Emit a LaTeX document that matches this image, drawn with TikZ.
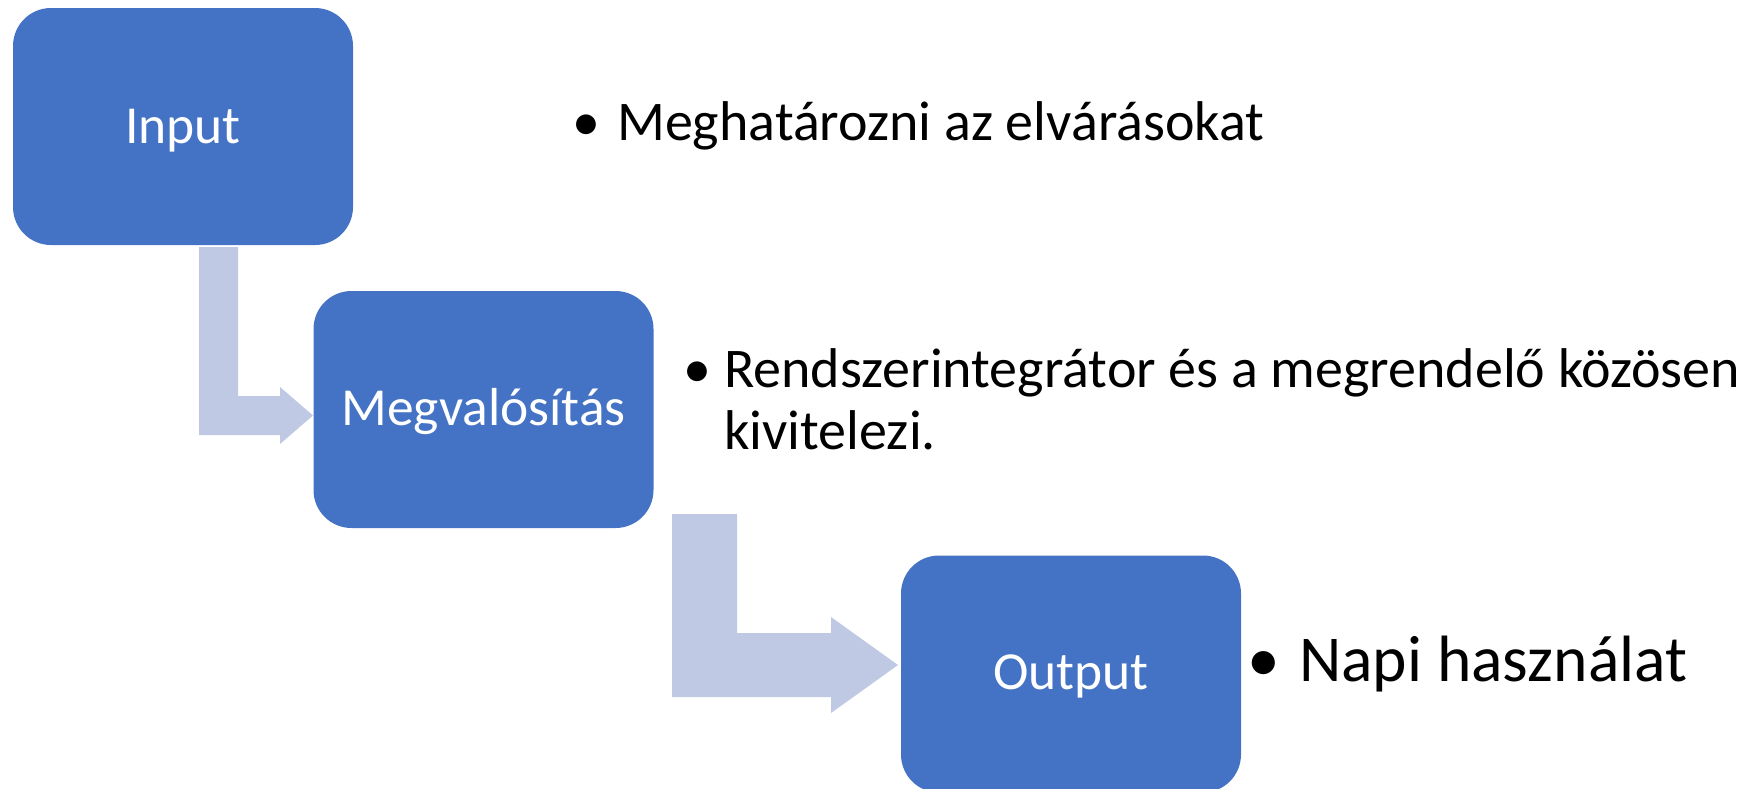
\documentclass[tikz,border=0pt]{standalone}
\usepackage{fontspec}
\setmainfont{Carlito}
\definecolor{boxblue}{RGB}{68,114,196}
\definecolor{arrowblue}{RGB}{191,201,228}
\begin{document}
\begin{tikzpicture}[x=1pt,y=-1pt,
  stepbox/.style={fill=boxblue, rounded corners=38pt, inner sep=0pt, minimum width=340pt, minimum height=237pt},
  lbl/.style={text=white, anchor=base, inner sep=0pt, font=\fontsize{53.5}{64}\selectfont},
  bul/.style={anchor=base west, inner sep=0pt, text=black},
  bendarrow/.style={fill=arrowblue}]
\useasboundingbox (0,0) rectangle (1749,788);
% boxes
\node[stepbox] (in) at (183,126.5) {};
\node[stepbox] (meg) at (483.5,409.5) {};
\node[stepbox] (out) at (1071,674) {};
\node[lbl] (inT) at (183,143) {Input};
\node[lbl] (megT) at (483.5,425) {Megvalósítás};
\node[lbl] (outT) at (1071,689) {Output};
% bent arrows
\coordinate (t1) at (313,415.5);
\coordinate (t2) at (898,665);
\fill[bendarrow] (199,247) -- (238,247) -- (238,396) -- (280,396) -- (280,387) -- (t1) -- (280,444) -- (280,435) -- (199,435) -- cycle;
\fill[bendarrow] (672,514) -- (737,514) -- (737,633) -- (831,633) -- (831,617) -- (t2) -- (831,713) -- (831,697) -- (672,697) -- cycle;
% bullet texts
\node[bul, font=\fontsize{56}{67}\selectfont] (b1) at (572,140) {•};
\node[bul, font=\fontsize{56}{67}\selectfont] (t1a) at (617,140) {Meghatározni az elvárásokat};
\node[bul, font=\fontsize{56}{67}\selectfont] (b2) at (683,387) {•};
\node[bul, font=\fontsize{56}{67}\selectfont] (t2a) at (724,387) {Rendszerintegrátor és a megrendelő közösen};
\node[bul, font=\fontsize{56}{67}\selectfont] (t2b) at (724,449) {kivitelezi.};
\node[bul, font=\fontsize{65.5}{78}\selectfont] (b3) at (1247,681) {•};
\node[bul, font=\fontsize{65.5}{78}\selectfont] (t3a) at (1299,681) {Napi használat};
\end{tikzpicture}
\end{document}
